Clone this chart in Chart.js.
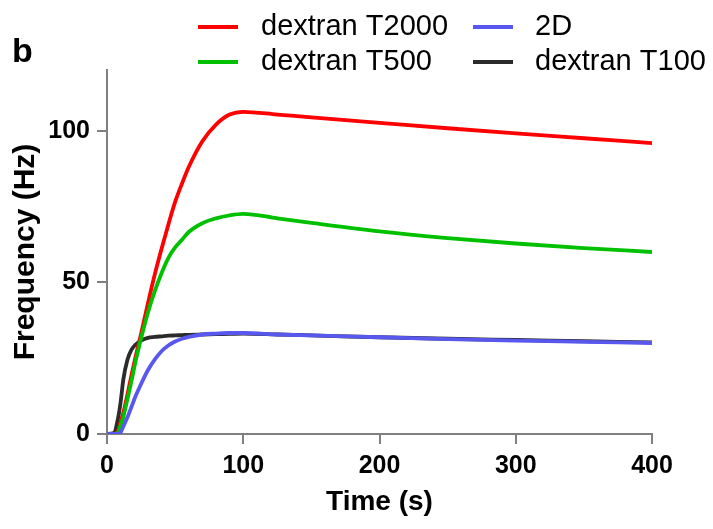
<!DOCTYPE html>
<html>
<head>
<meta charset="utf-8">
<script src="https://cdn.jsdelivr.net/npm/chart.js@4/dist/chart.umd.min.js"></script>
<style>
  html, body { margin: 0; padding: 0; background: #ffffff; }
  #wrap { width: 713px; height: 529px; position: relative; }
</style>
</head>
<body>
<div id="wrap"><canvas id="c" width="713" height="529"></canvas></div>
<script>
// ---- data ----
const time = [0, 5, 8, 10, 12, 15, 18, 21, 25, 30, 35, 40, 45, 50, 55, 60, 70, 80, 90, 100, 125, 150, 200, 250, 300, 350, 400];
const dextranT2000 = [0, 0, 1, 4, 7, 13, 19.5, 25.5, 33, 43, 52.5, 61, 69, 76.5, 82.5, 88, 96.5, 102, 105.3, 106.2, 105.3, 104.4, 102.6, 100.8, 99.1, 97.5, 95.9];
const dextranT500 = [0, 0, 0.5, 3, 5.7, 11.5, 17.5, 24, 31.5, 40, 47, 53, 58, 61.5, 64, 66.6, 69.5, 71.1, 72.1, 72.6, 71.1, 69.6, 66.8, 64.6, 62.8, 61.3, 60];
const dextranT100 = [0, 0.3, 5, 10.5, 18, 24.5, 27.8, 29.5, 30.8, 31.7, 32, 32.2, 32.4, 32.5, 32.6, 32.7, 32.8, 32.9, 33, 33.1, 32.8, 32.5, 31.9, 31.4, 31, 30.6, 30.2];
const twoD = [0, 0, 0, 0.5, 2.5, 5.5, 9, 12.5, 16.5, 21, 24.5, 27.3, 29.2, 30.5, 31.4, 32, 32.8, 33.1, 33.3, 33.3, 32.8, 32.5, 31.9, 31.3, 30.8, 30.4, 30];
const seriesNames = ["dextran T2000", "dextran T500", "2D", "dextran T100"];
const xTicks = [0, 100, 200, 300, 400];
const yTicks = [0, 50, 100];
const xTitle = "Time (s)";
const yTitle = "Frequency (Hz)";
const panelLabel = "b";

const colors = {
  "dextran T2000": "#ff0000",
  "dextran T500": "#00c000",
  "2D": "#5858ee",
  "dextran T100": "#2b2b2b"
};

function pts(ys) { return time.map((t, i) => ({ x: t, y: ys[i] })); }

const FONT = '"Liberation Sans", Arial, Helvetica, sans-serif';
const AXIS = '#808080';

function ds(name, ys) {
  return {
    label: name,
    data: pts(ys),
    borderColor: colors[name],
    backgroundColor: colors[name],
    borderWidth: 3.8,
    pointRadius: 0,
    fill: false,
    cubicInterpolationMode: 'monotone'
  };
}

// first dataset is drawn on top
const datasets = [
  ds("2D", twoD),
  ds("dextran T500", dextranT500),
  ds("dextran T2000", dextranT2000),
  ds("dextran T100", dextranT100)
];

const legendPlugin = {
  id: 'customLegend',
  afterDraw(chart) {
    const ctx = chart.ctx;
    ctx.save();
    // panel label
    ctx.fillStyle = '#000';
    ctx.font = 'bold 34px ' + FONT;
    ctx.textAlign = 'left';
    ctx.textBaseline = 'alphabetic';
    ctx.fillText(panelLabel, 12, 62);
    // legend (2 columns x 2 rows)
    const layout = [
      { name: seriesNames[0], lx: 198, tx: 261, y: 27 },
      { name: seriesNames[2], lx: 473, tx: 535, y: 27 },
      { name: seriesNames[1], lx: 198, tx: 261, y: 62 },
      { name: seriesNames[3], lx: 473, tx: 535, y: 62 }
    ];
    ctx.font = '29px ' + FONT;
    ctx.textBaseline = 'middle';
    layout.forEach(it => {
      ctx.strokeStyle = colors[it.name];
      ctx.lineWidth = 4;
      ctx.beginPath();
      ctx.moveTo(it.lx, it.y);
      ctx.lineTo(it.lx + 40, it.y);
      ctx.stroke();
      ctx.fillStyle = '#000';
      ctx.fillText(it.name, it.tx, it.y);
    });
    ctx.restore();
  }
};

new Chart(document.getElementById('c'), {
  type: 'line',
  data: { datasets },
  options: {
    responsive: false,
    animation: false,
    devicePixelRatio: 1,
    layout: { padding: { left: 0, right: 61, top: 70, bottom: 0 } },
    plugins: { legend: { display: false }, tooltip: { enabled: false } },
    scales: {
      x: {
        type: 'linear',
        min: 0, max: 400,
        afterFit(s) { s.height = 95; },
        afterBuildTicks(s) { s.ticks = xTicks.map(v => ({ value: v })); },
        border: { display: true, color: AXIS, width: 2 },
        grid: { drawOnChartArea: false, drawTicks: true, tickLength: 10, color: AXIS, lineWidth: 2 },
        ticks: { color: '#000', padding: 7, maxRotation: 0, font: { family: FONT, size: 25, weight: 'bold' } },
        title: { display: true, text: xTitle, color: '#000', padding: { top: 0, bottom: 10 }, font: { family: FONT, size: 28, weight: 'bold' } }
      },
      y: {
        type: 'linear',
        min: 0, max: 120,
        afterFit(s) { s.width = 107; },
        afterBuildTicks(s) { s.ticks = yTicks.map(v => ({ value: v })); },
        border: { display: true, color: AXIS, width: 2 },
        grid: { drawOnChartArea: false, drawTicks: true, tickLength: 10, color: AXIS, lineWidth: 2 },
        ticks: { color: '#000', padding: 7, font: { family: FONT, size: 25, weight: 'bold' } },
        title: { display: true, text: yTitle, color: '#000', padding: { top: 8, bottom: 0 }, font: { family: FONT, size: 30, weight: 'bold' } }
      }
    }
  },
  plugins: [legendPlugin]
});
</script>
</body>
</html>
